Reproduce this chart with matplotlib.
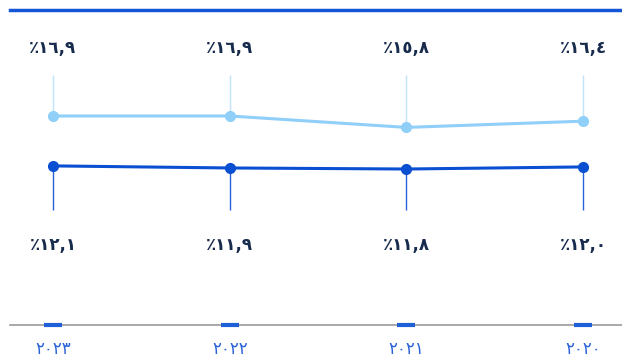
import matplotlib
matplotlib.use("Agg")
import matplotlib.pyplot as plt
import matplotlib.transforms as mtransforms

# values per year (right-to-left order as shown: 2023 .. 2020)
years = ["٢٠٢٣", "٢٠٢٢", "٢٠٢١", "٢٠٢٠"]
upper_vals = [16.9, 16.9, 15.8, 16.4]
lower_vals = [12.1, 11.9, 11.8, 12.0]

LIGHT = "#8fcff8"
LIGHT_STEM = "#bfe4fb"
DARK = "#0a4fd2"
TEXT = "#172b4d"
YEAR_BLUE = "#2a63d9"

AR_DIGITS = str.maketrans("0123456789", "٠١٢٣٤٥٦٧٨٩")


def ar_pct(v):
    return "٪" + f"{v:.1f}".replace(".", ",").translate(AR_DIGITS)


fig = plt.figure(figsize=(6.22, 3.61), dpi=100)
ax = fig.add_axes([10 / 622, 36 / 361, 612 / 622, 315 / 361])

x = list(range(len(years)))
ax.set_xlim(-0.243, 3.22)
y0, y1 = -3.2, 27.09
ax.set_ylim(y0, y1)


def frac_to_data(f):
    return y0 + f * (y1 - y0)


# stems: light ones go up toward the labels, dark ones hang below
ax.vlines(x, upper_vals, frac_to_data(0.794), color=LIGHT_STEM, lw=1.0, zorder=1)
ax.vlines(x, lower_vals, frac_to_data(0.365), color="#2a62dc", lw=1.0, zorder=1)

ax.plot(x, upper_vals, color=LIGHT, lw=2.2, marker="o", ms=7, zorder=3)
ax.plot(x, lower_vals, color=DARK, lw=2.2, marker="o", ms=7, zorder=3)

trans = mtransforms.blended_transform_factory(ax.transData, ax.transAxes)
for xi, u, l in zip(x, upper_vals, lower_vals):
    ax.text(xi, 0.879, ar_pct(u), transform=trans, ha="center", va="center",
            fontsize=12, fontweight="bold", color=TEXT, family="DejaVu Sans")
    ax.text(xi, 0.254, ar_pct(l), transform=trans, ha="center", va="center",
            fontsize=12, fontweight="bold", color=TEXT, family="DejaVu Sans")

# small blue dashes on the baseline
ax.plot(x, [0] * len(x), transform=trans, ls="none", marker="_", ms=13,
        mew=3, color="#1f5fd8", clip_on=False, zorder=4)

for side in ["left", "right"]:
    ax.spines[side].set_visible(False)
ax.spines["top"].set_color("#1556d6")
ax.spines["top"].set_linewidth(2.5)
ax.spines["bottom"].set_color("#9a9a9a")
ax.spines["bottom"].set_linewidth(1.2)

ax.set_yticks([])
ax.set_xticks(x)
ax.set_xticklabels(years, fontsize=12, color=YEAR_BLUE)
ax.tick_params(axis="x", length=0, pad=11)

fig.savefig("out.png", dpi=100)
